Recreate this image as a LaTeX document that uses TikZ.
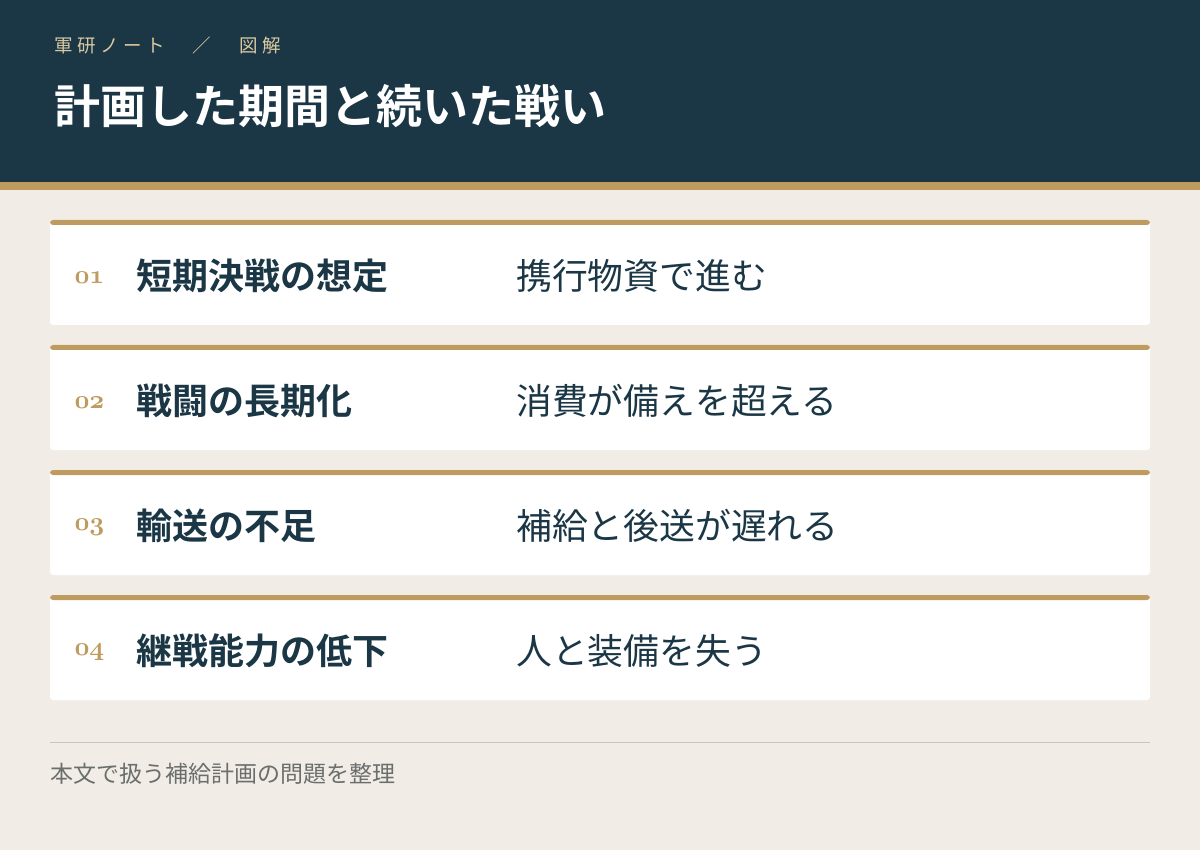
\documentclass[tikz,border=0pt]{standalone}
\usepackage{fontspec}
\newfontfamily\cjk{Noto Sans CJK JP}[BoldFont={Noto Sans CJK JP Bold}]
\newfontfamily\cjkls{Noto Sans CJK JP}[LetterSpace=25]
\definecolor{navy}{HTML}{1B3746}
\definecolor{gold}{HTML}{BE9B5E}
\definecolor{paper}{HTML}{F1EDE6}
\definecolor{tan}{HTML}{D9C9A0}
\definecolor{foot}{HTML}{6A6E6D}
\definecolor{rule}{HTML}{C9C6BF}
\newcommand{\osnum}[1]{{\fontencoding{OML}\fontfamily{cmm}\fontseries{b}\fontshape{it}\fontsize{10}{10}\selectfont #1}}
\tikzset{
  card/.style={fill=white, rounded corners=3pt, minimum width=1100pt, minimum height=105pt, inner sep=0pt,
    path picture={\fill[gold] (path picture bounding box.north west) rectangle ([yshift=-5pt]path picture bounding box.north east);}},
  num/.style={anchor=west, text=gold, scale=2.6, inner sep=0pt},
  ttl/.style={anchor=west, text=navy, inner sep=0pt, font=\cjk\bfseries\fontsize{36}{40}\selectfont},
  desc/.style={anchor=west, text=navy, inner sep=0pt, font=\cjk\fontsize{35.8}{40}\selectfont},
}
\begin{document}
\begin{tikzpicture}[x=1pt,y=-1pt]
\useasboundingbox (0,0) rectangle (1200,850);
\fill[paper] (0,0) rectangle (1200,850);
\fill[navy] (0,0) rectangle (1200,182);
\fill[gold] (0,182) rectangle (1200,190);
\node[anchor=west, inner sep=0pt, text=tan, font=\cjkls\fontsize{18.5}{20}\selectfont] (kick) at (54,45) {軍研ノート　／　図解};
\node[anchor=west, inner sep=0pt, text=white, font=\cjk\bfseries\fontsize{46}{50}\selectfont] (title) at (54,106) {計画した期間と続いた戦い};
\foreach \i/\n/\t/\d in {0/01/短期決戦の想定/携行物資で進む,1/02/戦闘の長期化/消費が備えを超える,2/03/輸送の不足/補給と後送が遅れる,3/04/継戦能力の低下/人と装備を失う}{
  \node[card] (card\n) at (600,272.5+125*\i) {};
  \node[num] (num\n) at (74,277.5+125*\i) {\osnum{\n}};
  \node[ttl] (ttl\n) at (136,276+125*\i) {\t};
  \node[desc] (desc\n) at (516,276+125*\i) {\d};
}
\coordinate (r1) at (50,742);
\coordinate (r2) at (1150,742);
\draw[rule, line width=1pt] (r1) -- (r2);
\node[anchor=west, inner sep=0pt, text=foot, font=\cjk\fontsize{23}{26}\selectfont] (note) at (50,774) {本文で扱う補給計画の問題を整理};
\end{tikzpicture}
\end{document}
